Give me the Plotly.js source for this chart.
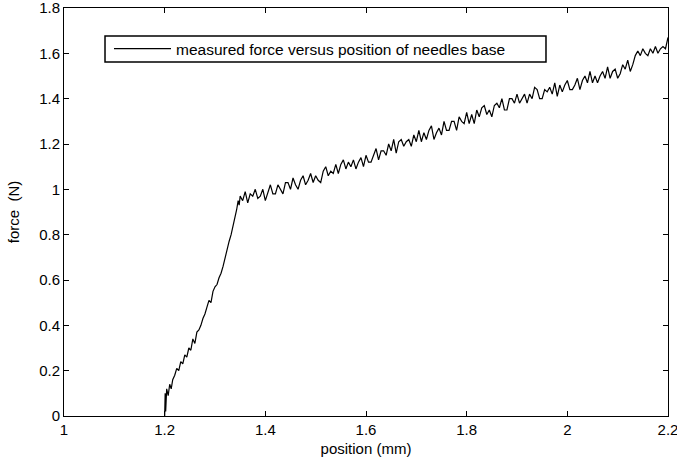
<!DOCTYPE html>
<html><head><meta charset="utf-8">
<script src="https://cdn.plot.ly/plotly-3.0.1.min.js"></script>
<style>html,body{margin:0;padding:0;background:#fff}#chart{width:677px;height:463px}</style>
</head><body><div id="chart"></div>
<script>
var seriesName = "measured force versus position of needles base";
var xTitle = "position (mm)";
var yTitle = "force  (N)";
var xTicks = [1, 1.2, 1.4, 1.6, 1.8, 2, 2.2];
var yTicks = [0, 0.2, 0.4, 0.6, 0.8, 1, 1.2, 1.4, 1.6, 1.8];

var positionRise = [1.200,1.201,1.202,1.204,1.207,1.210,1.213,1.216,1.220,1.224,1.228,1.232,1.236,1.240,1.244,1.248,1.252,1.256,1.260,1.264,1.268,1.272,1.276,1.280,1.284,1.288,1.292,1.296,1.300,1.304,1.308,1.312,1.316,1.320,1.324,1.328,1.332,1.336,1.340,1.343,1.346,1.348,1.350];
var forceRise = [0.00,0.10,0.02,0.12,0.09,0.14,0.12,0.16,0.18,0.21,0.20,0.24,0.23,0.27,0.26,0.30,0.29,0.34,0.32,0.37,0.38,0.40,0.43,0.45,0.48,0.51,0.50,0.55,0.57,0.58,0.61,0.63,0.66,0.70,0.74,0.77,0.80,0.84,0.87,0.91,0.95,0.93,0.97];

var positionSlope = [1.355,1.360,1.365,1.370,1.375,1.380,1.385,1.390,1.395,1.400,1.405,1.410,1.415,1.420,1.425,1.430,1.435,1.440,1.445,1.450,1.455,1.460,1.465,1.470,1.475,1.480,1.485,1.490,1.495,1.500,1.505,1.510,1.515,1.520,1.525,1.530,1.535,1.540,1.545,1.550,1.555,1.560,1.565,1.570,1.575,1.580,1.585,1.590,1.595,1.600,1.605,1.610,1.615,1.620,1.625,1.630,1.635,1.640,1.645,1.650,1.655,1.660,1.665,1.670,1.675,1.680,1.685,1.690,1.695,1.700,1.705,1.710,1.715,1.720,1.725,1.730,1.735,1.740,1.745,1.750,1.755,1.760,1.765,1.770,1.775,1.780,1.785,1.790,1.795,1.800,1.805,1.810,1.815,1.820,1.825,1.830,1.835,1.840,1.845,1.850,1.855,1.860,1.865,1.870,1.875,1.880,1.885,1.890,1.895,1.900,1.905,1.910,1.915,1.920,1.925,1.930,1.935,1.940,1.945,1.950,1.955,1.960,1.965,1.970,1.975,1.980,1.985,1.990,1.995,2.000,2.005,2.010,2.015,2.020,2.025,2.030,2.035,2.040,2.045,2.050,2.055,2.060,2.065,2.070,2.075,2.080,2.085,2.090,2.095,2.100,2.105,2.110,2.115,2.120,2.125,2.130,2.135,2.140,2.145,2.150,2.155,2.160,2.165,2.170,2.175,2.180,2.185,2.190,2.195,2.200];
var forceSlope = [0.95,0.99,0.94,0.98,0.97,1.00,0.96,0.97,1.00,0.95,0.99,1.02,0.98,0.98,1.02,1.00,0.98,1.03,1.03,1.00,1.05,1.02,1.00,1.04,1.06,1.02,1.04,1.07,1.03,1.06,1.04,1.03,1.08,1.10,1.06,1.08,1.07,1.11,1.07,1.11,1.13,1.09,1.12,1.10,1.13,1.09,1.12,1.14,1.10,1.15,1.12,1.12,1.15,1.18,1.13,1.17,1.17,1.15,1.20,1.17,1.22,1.16,1.21,1.22,1.19,1.21,1.22,1.19,1.24,1.21,1.26,1.21,1.25,1.22,1.26,1.28,1.22,1.25,1.27,1.24,1.30,1.26,1.26,1.30,1.30,1.26,1.32,1.30,1.29,1.34,1.29,1.33,1.29,1.35,1.32,1.36,1.37,1.33,1.35,1.32,1.37,1.38,1.36,1.40,1.35,1.35,1.40,1.40,1.38,1.42,1.38,1.40,1.42,1.38,1.42,1.40,1.45,1.44,1.40,1.40,1.44,1.43,1.45,1.42,1.47,1.41,1.46,1.43,1.46,1.48,1.44,1.44,1.46,1.49,1.44,1.48,1.50,1.47,1.52,1.47,1.50,1.47,1.50,1.52,1.49,1.54,1.49,1.52,1.53,1.49,1.51,1.55,1.53,1.57,1.52,1.55,1.59,1.61,1.59,1.62,1.60,1.59,1.62,1.60,1.63,1.60,1.62,1.63,1.62,1.67];

var xs = positionRise.concat(positionSlope);
var ys = forceRise.concat(forceSlope);

var font = "Liberation Sans, Arial, sans-serif";
var trace = {x: xs, y: ys, type: "scatter", mode: "lines", name: seriesName,
  line: {color: "#000", width: 1.2}};

var axisCommon = {showline: true, linecolor: "#000", linewidth: 1, mirror: "ticks",
  ticks: "inside", ticklen: 5, tickcolor: "#000", showgrid: false, zeroline: false,
  automargin: false, ticklabeloverflow: "allow",
  tickfont: {family: font, size: 15, color: "#000"}};

var layout = {
  width: 677, height: 463,
  margin: {l: 64, r: 9, t: 8, b: 47},
  paper_bgcolor: "#fff", plot_bgcolor: "#fff",
  showlegend: true,
  legend: {x: 0.0745, y: 0.941, xanchor: "left", yanchor: "top", orientation: "h",
    bgcolor: "rgba(0,0,0,0)", borderwidth: 0,
    font: {family: font, size: 15.5, color: "#000"}, itemwidth: 57},
  shapes: [{type: "rect", xref: "paper", yref: "paper",
    x0: 0.0679, x1: 0.798, y0: 0.8676, y1: 0.9314,
    line: {color: "#000", width: 1.5}, fillcolor: "#fff", layer: "above"}],
  xaxis: Object.assign({}, axisCommon, {range: [1, 2.2], tickvals: xTicks,
    ticktext: xTicks.map(String),
    title: {text: xTitle, font: {family: font, size: 15, color: "#000"}, standoff: 6}}),
  yaxis: Object.assign({}, axisCommon, {range: [0, 1.8], tickvals: yTicks,
    ticktext: yTicks.map(String),
    title: {text: yTitle, font: {family: font, size: 15, color: "#000"}, standoff: 15}})
};
Plotly.newPlot("chart", [trace], layout, {displayModeBar: false, staticPlot: true});
</script></body></html>
